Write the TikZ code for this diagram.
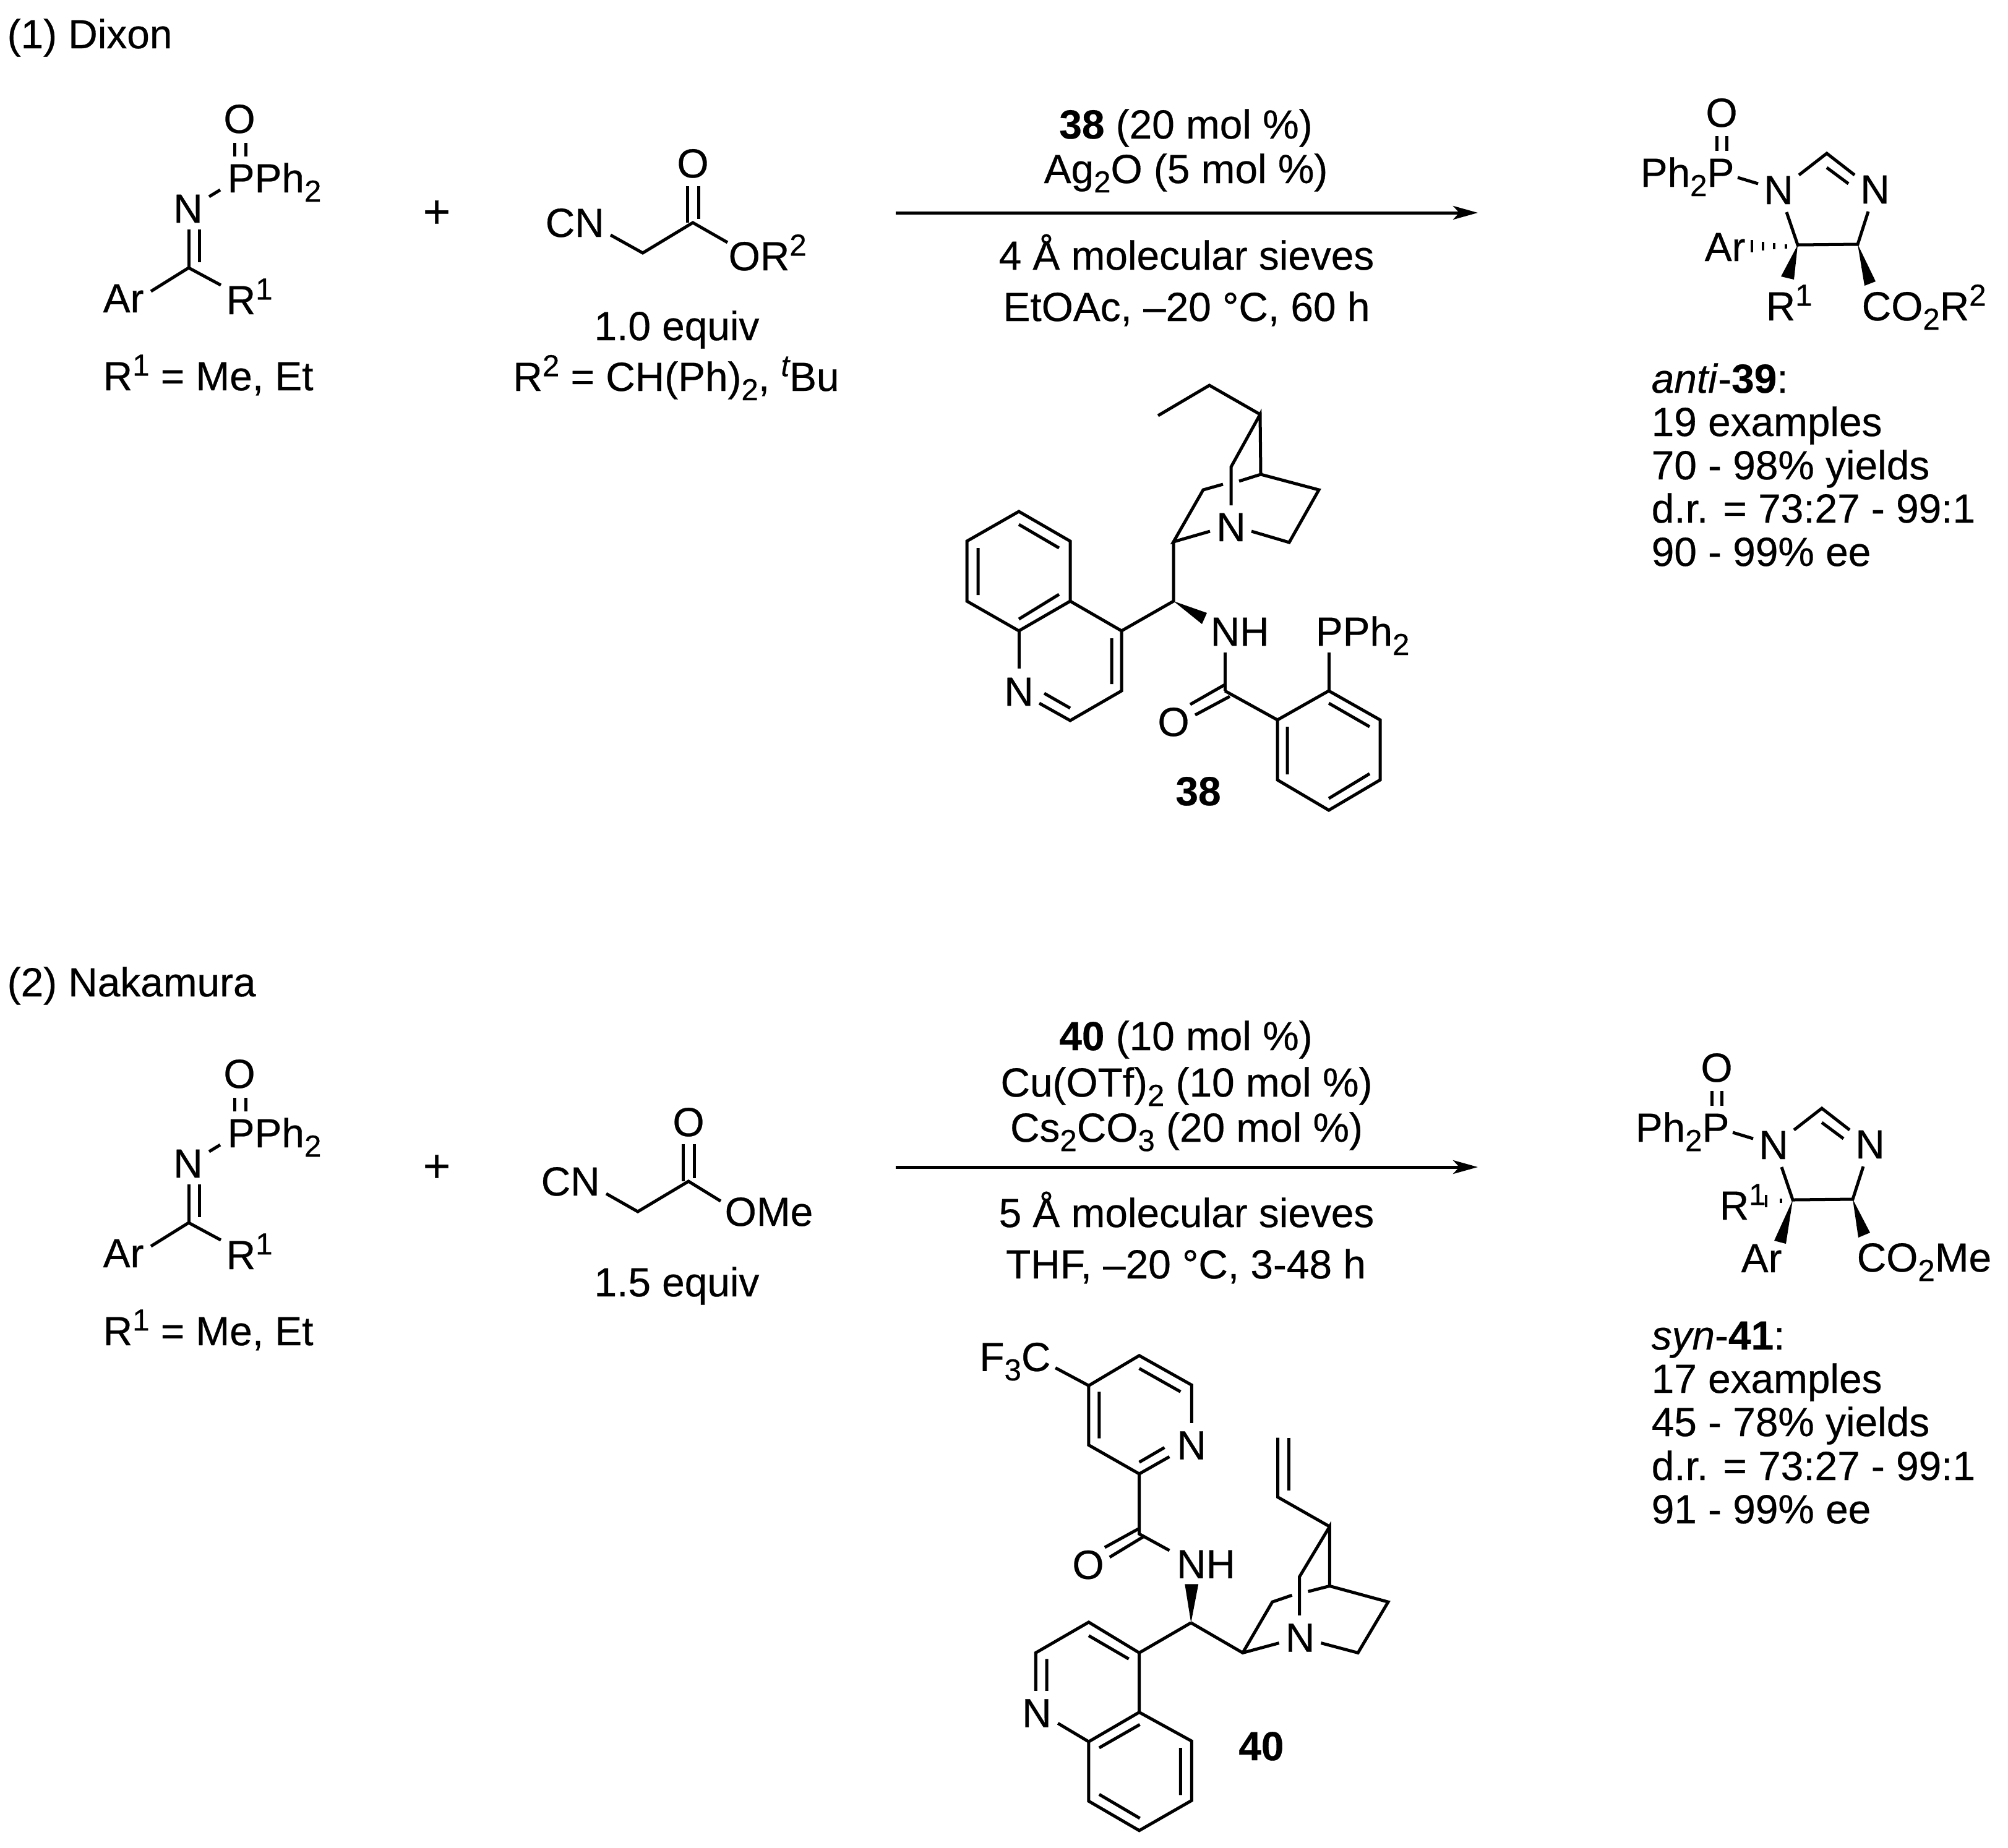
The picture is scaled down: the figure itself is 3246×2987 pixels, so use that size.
\documentclass[tikz,border=0pt]{standalone}
\usepackage{fontspec}
\setmainfont{Liberation Sans}[FakeBold=0.4]
\usetikzlibrary{arrows.meta}
\newcommand{\atm}[3]{\coordinate (#1) at (#2,#3);}
\newcommand{\subs}[1]{\raisebox{-0.23em}{\fontsize{14}{14}\selectfont #1}}
\newcommand{\sups}[1]{\raisebox{0.36em}{\fontsize{14}{14}\selectfont #1}}
\tikzset{
  bond/.style={line width=0.05cm,line cap=butt,line join=miter,black},
  hashb/.style={line width=0.04cm,black},
  wedgeb/.style={fill=black,draw=none},
  rxn/.style={line width=0.05cm,black,-{Stealth[length=0.4cm,width=0.22cm,inset=0.1cm]}},
  lbl/.style={anchor=base west,inner sep=0pt,font=\fontsize{18.7}{18.7}\selectfont},
  clbl/.style={anchor=base,inner sep=0pt,font=\fontsize{18.7}{18.7}\selectfont},
  plusl/.style={anchor=base,inner sep=0pt,font=\fontsize{21.5}{21.5}\selectfont}
}
% imine reactant
\newcommand{\iminemol}[2]{%
\begin{scope}[shift={(0,#2)}]
\atm{#1c}{305}{433}
\atm{#1na}{305}{371}\atm{#1nb}{322}{371}\atm{#1cb}{322}{424}
\atm{#1pa}{379}{231}\atm{#1pb}{397}{231}\atm{#1pc}{379}{253}\atm{#1pd}{397}{253}
\atm{#1ns}{338}{318}\atm{#1ne}{356}{307}
\atm{#1ar}{244}{471}\atm{#1ro}{357}{461}
\node[clbl] (#1O) at (387,215) {O};
\node[lbl] (#1PPh) at (367,311) {PPh\subs{2}};
\node[clbl] (#1N) at (304,360) {N};
\node[lbl] (#1Ar) at (166,505) {Ar};
\node[lbl] (#1R) at (365,508) {R\sups{1}};
\node[lbl] (#1Rdef) at (166,631) {R\sups{1} = Me, Et};
\draw[bond] (#1pa)--(#1pc) (#1pb)--(#1pd);
\draw[bond] (#1ns)--(#1ne);
\draw[bond] (#1na)--(#1c) (#1nb)--(#1cb);
\draw[bond] (#1ar)--(#1c)--(#1ro);
\end{scope}}
% imidazoline core
\newcommand{\ringcore}[4]{%
\begin{scope}[shift={(#2,#3)}]
\atm{#1top}{2953}{248}\atm{#1l}{2908}{283}\atm{#1r}{2998}{283}
\atm{#1ia}{2953}{271}\atm{#1ib}{2988}{297}
\atm{#1pa}{2775}{220}\atm{#1pb}{2791}{220}\atm{#1pc}{2775}{244}\atm{#1pd}{2791}{244}
\atm{#1ps}{2809}{287}\atm{#1pe}{2842}{297}
\atm{#1ns}{2888}{343}\atm{#1cf}{2906}{396}\atm{#1cv}{3003}{395}\atm{#1nt}{3020}{342}
\node[clbl] (#1O) at (2783,205) {O};
\node[lbl] (#1Ph) at (2651,302) {Ph\subs{2}P};
\node[clbl] (#1Na) at (2875,330) {N};
\node[clbl] (#1Nb) at (3031,329) {N};
\draw[bond] (#1pa)--(#1pc) (#1pb)--(#1pd);
\draw[bond] (#1ps)--(#1pe);
\draw[bond] (#1l)--(#1top)--(#1r) (#1ia)--(#1ib);
\draw[bond] (#1ns)--(#1cf)--(#1cv)--(#1nt);
#4
\end{scope}}
\begin{document}
\begin{tikzpicture}[x=0.01cm,y=-0.01cm]
\useasboundingbox (0,0) rectangle (3246,2987);
% ===== Row 1 =====
\node[lbl] (titleA) at (11,78) {(1) Dixon};
\iminemol{ia}{0}
\node[plusl] (plusA) at (706,368) {+};
% ester 1
\atm{ea}{987}{380}\atm{eb}{1039}{409}\atm{ec}{1120}{360}\atm{ed}{1176}{392}
\atm{eo1}{1111}{301}\atm{eo2}{1129}{301}\atm{ec1}{1111}{360}\atm{ec2}{1129}{354}
\node[lbl] (eCN) at (881,383) {CN};
\node[clbl] (eO) at (1120,287) {O};
\node[lbl] (eOR) at (1177,437) {OR\sups{2}};
\node[clbl] (eq1) at (1094,550) {1.0 equiv};
\node[clbl] (eq1b) at (1093,632) {R\sups{2} = CH(Ph)\subs{2}, \sups{\itshape t}Bu};
\draw[bond] (ea)--(eb)--(ec)--(ed);
\draw[bond] (eo1)--(ec1) (eo2)--(ec2);
% arrow 1
\atm{aas}{1448}{344}\atm{aae}{2389}{344}
\draw[rxn] (aas)--(aae);
\node[clbl] (c1a) at (1917,224) {\textbf{38} (20 mol \%)};
\node[clbl] (c1b) at (1917,296) {Ag\subs{2}O (5 mol \%)};
\node[clbl] (c1c) at (1918,436) {4 Å molecular sieves};
\node[clbl] (c1d) at (1918,519) {EtOAc, –20 °C, 60 h};
% catalyst 38 : quinoline
\atm{qa}{1647}{827}\atm{qb}{1730}{875}\atm{qc}{1730}{972}\atm{qd}{1647}{1020}\atm{qe}{1563}{972}\atm{qf}{1563}{875}
\atm{qg}{1813}{1020}\atm{qh}{1813}{1117}\atm{qi}{1730}{1165}
\atm{qn}{1647}{1081}\atm{qm}{1680}{1137}
\draw[bond] (qa)--(qb)--(qc)--(qd)--(qe)--(qf)--cycle;
\draw[bond] (qc)--(qg)--(qh)--(qi)--(qm);
\draw[bond] (qd)--(qn);
\atm{qia}{1647}{848}\atm{qib}{1712}{886}\atm{qic}{1581}{886}\atm{qid}{1581}{962}
\atm{qie}{1647}{1001}\atm{qif}{1712}{961}\atm{qig}{1797}{1032}\atm{qih}{1797}{1106}
\atm{qii}{1688}{1121}\atm{qij}{1730}{1145}
\draw[bond] (qia)--(qib) (qic)--(qid) (qie)--(qif) (qig)--(qih) (qii)--(qij);
\node[clbl] (qN) at (1647,1141) {N};
% linker
\atm{lj}{1897}{972}\atm{lk}{1897}{876}\atm{lwa}{1951}{991}\atm{lwb}{1943}{1009}
\draw[bond] (qg)--(lj)--(lk);
\fill[wedgeb] (lj)--(lwa)--(lwb)--cycle;
\node[lbl] (lNH) at (1956,1044) {NH};
\atm{ln}{1980}{1055}\atm{ll}{1980}{1117}
\atm{lo1}{1980}{1107}\atm{lo2}{1924}{1139}\atm{lo3}{1988}{1126}\atm{lo4}{1932}{1156}
\draw[bond] (ln)--(ll);
\draw[bond] (lo1)--(lo2) (lo3)--(lo4);
\node[clbl] (lO) at (1897,1190) {O};
% benzene
\atm{ba}{2065}{1164}\atm{bb}{2148}{1117}\atm{bc}{2231}{1164}\atm{bd}{2231}{1261}\atm{be}{2148}{1310}\atm{bf}{2065}{1261}
\draw[bond] (ba)--(bb)--(bc)--(bd)--(be)--(bf)--cycle;
\draw[bond] (ll)--(ba);
\atm{bia}{2148}{1137}\atm{bib}{2214}{1175}\atm{bic}{2081}{1175}\atm{bid}{2081}{1252}\atm{bie}{2148}{1291}\atm{bif}{2214}{1251}
\draw[bond] (bia)--(bib) (bic)--(bid) (bie)--(bif);
\atm{bp}{2148}{1055}
\draw[bond] (bb)--(bp);
\node[lbl] (bPPh) at (2126,1044) {PPh\subs{2}};
\node[clbl] (lab38) at (1937,1302) {\textbf{38}};
% quinuclidine
\node[clbl] (uN) at (1990,875) {N};
\atm{ua}{1956}{859}\atm{us}{1945}{792}\atm{ub}{1977}{783}\atm{uc}{2003}{778}\atm{ut}{2038}{767}
\atm{uu}{2132}{792}\atm{uv}{2084}{877}\atm{ud}{2023}{859}\atm{uw}{1990}{755}\atm{ue}{1990}{817}
\atm{ux}{2037}{670}\atm{uy}{1955}{623}\atm{uz}{1872}{672}
\draw[bond] (ua)--(lk)--(us)--(ub);
\draw[bond] (uc)--(ut)--(uu)--(uv)--(ud);
\draw[bond] (ue)--(uw)--(ux)--(ut);
\draw[bond] (ux)--(uy)--(uz);
% product 39
\ringcore{pa}{0}{0}{}
\atm{pawa}{2879}{447}\atm{pawb}{2900}{452}\atm{pawc}{3014}{462}\atm{pawd}{3032}{455}
\fill[wedgeb] (pacf)--(pawa)--(pawb)--cycle;
\fill[wedgeb] (pacv)--(pawc)--(pawd)--cycle;
\atm{ph1}{2832}{388}\atm{ph2}{2832}{408}\atm{ph3}{2850}{391}\atm{ph4}{2850}{405}
\atm{ph5}{2868}{393}\atm{ph6}{2868}{403}\atm{ph7}{2887}{395}\atm{ph8}{2887}{402}
\draw[hashb] (ph1)--(ph2) (ph3)--(ph4) (ph5)--(ph6) (ph7)--(ph8);
\node[lbl] (paAr) at (2755,422) {Ar};
\node[lbl] (paR) at (2854,518) {R\sups{1}};
\node[lbl] (paCO) at (3009,518) {CO\subs{2}R\sups{2}};
\node[lbl] (sa1) at (2669,635) {\textit{anti}-\textbf{39}:};
\node[lbl] (sa2) at (2669,705) {19 examples};
\node[lbl] (sa3) at (2669,775) {70 - 98\% yields};
\node[lbl] (sa4) at (2669,845) {d.r. = 73:27 - 99:1};
\node[lbl] (sa5) at (2669,915) {90 - 99\% ee};
% ===== Row 2 =====
\node[lbl] (titleB) at (11,1611) {(2) Nakamura};
\iminemol{ib}{1544}
\node[plusl] (plusB) at (706,1911) {+};
% ester 2
\atm{fa}{980}{1930}\atm{fb}{1031}{1959}\atm{fc}{1113}{1910}\atm{fd}{1165}{1942}
\atm{fo1}{1104}{1850}\atm{fo2}{1122}{1850}\atm{fc1}{1104}{1910}\atm{fc2}{1122}{1905}
\node[lbl] (fCN) at (874,1933) {CN};
\node[clbl] (fO) at (1113,1837) {O};
\node[lbl] (fOMe) at (1171,1982) {OMe};
\node[clbl] (eq2) at (1094,2096) {1.5 equiv};
\draw[bond] (fa)--(fb)--(fc)--(fd);
\draw[bond] (fo1)--(fc1) (fo2)--(fc2);
% arrow 2
\atm{abs}{1448}{1887}\atm{abe}{2389}{1887}
\draw[rxn] (abs)--(abe);
\node[clbl] (c2a) at (1917,1698) {\textbf{40} (10 mol \%)};
\node[clbl] (c2b) at (1918,1773) {Cu(OTf)\subs{2} (10 mol \%)};
\node[clbl] (c2c) at (1918,1846) {Cs\subs{2}CO\subs{3} (20 mol \%)};
\node[clbl] (c2d) at (1918,1984) {5 Å molecular sieves};
\node[clbl] (c2e) at (1917,2067) {THF, –20 °C, 3-48 h};
% catalyst 40
\begin{scope}[shift={(6,19.73)},xscale=0.996,yscale=0.991]
\node[lbl] (vF) at (1583,2217) {F\subs{3}C};
\atm{va}{1761}{2241}\atm{vb}{1843}{2192}\atm{vc}{1928}{2240}\atm{vn}{1928}{2302}
\atm{vd}{1843}{2385}\atm{ve}{1761}{2338}\atm{vm}{1892}{2357}\atm{vf}{1707}{2212}
\draw[bond] (vn)--(vc)--(vb)--(va)--(ve)--(vd)--(vm);
\draw[bond] (vf)--(va);
\atm{via}{1843}{2213}\atm{vib}{1910}{2251}\atm{vic}{1778}{2251}\atm{vid}{1778}{2327}
\atm{vie}{1843}{2366}\atm{vif}{1884}{2342}
\draw[bond] (via)--(vib) (vic)--(vid) (vie)--(vif);
\node[clbl] (vN) at (1928,2361) {N};
% amide
\atm{vg}{1843}{2483}\atm{vo1}{1843}{2474}\atm{vo2}{1787}{2505}\atm{vo3}{1849}{2488}\atm{vo4}{1795}{2521}\atm{vh}{1892}{2510}
\draw[bond] (vd)--(vg)--(vh);
\draw[bond] (vo1)--(vo2) (vo3)--(vo4);
\node[clbl] (vO) at (1760,2556) {O};
\node[lbl] (vNH) at (1903,2555) {NH};
\atm{wt}{1927}{2628}\atm{wa}{1917}{2565}\atm{wb}{1939}{2565}
\fill[wedgeb] (wt)--(wa)--(wb)--cycle;
% quinoline 2
\atm{xh}{1843}{2677}\atm{xj}{1761}{2627}\atm{xk}{1675}{2677}\atm{xn}{1675}{2739}
\atm{xl}{1843}{2774}\atm{xm}{1761}{2822}\atm{xs}{1711}{2792}
\atm{xo}{1928}{2821}\atm{xp}{1928}{2918}\atm{xq}{1843}{2967}\atm{xr}{1761}{2919}
\draw[bond] (xn)--(xk)--(xj)--(xh)--(xl);
\draw[bond] (xh)--(wt);
\draw[bond] (xl)--(xo)--(xp)--(xq)--(xr)--(xm)--cycle;
\draw[bond] (xs)--(xm);
\atm{xia}{1693}{2687}\atm{xib}{1693}{2739}\atm{xic}{1761}{2649}\atm{xid}{1826}{2687}
\atm{xie}{1778}{2832}\atm{xif}{1844}{2794}\atm{xig}{1910}{2832}\atm{xih}{1910}{2909}
\atm{xii}{1844}{2947}\atm{xij}{1778}{2908}
\draw[bond] (xia)--(xib) (xic)--(xid) (xie)--(xif) (xig)--(xih) (xii)--(xij);
\node[lbl] (xN) at (1652,2798) {N};
\node[clbl] (lab40) at (2041,2852) {\textbf{40}};
% quinuclidine 2
\node[clbl] (yN) at (2104,2675) {N};
\atm{yi}{2011}{2677}\atm{ya}{2070}{2661}\atm{yr}{2059}{2594}\atm{yb}{2091}{2583}
\atm{yc}{2117}{2577}\atm{ys}{2152}{2568}\atm{yt}{2247}{2594}\atm{yu}{2198}{2677}\atm{yd}{2138}{2661}
\atm{yw}{2103}{2553}\atm{ye}{2103}{2616}\atm{yx}{2152}{2471}\atm{yy}{2068}{2423}\atm{yz}{2068}{2326}
\atm{yq}{2086}{2326}\atm{yp}{2086}{2412}
\draw[bond] (wt)--(yi)--(ya);
\draw[bond] (yi)--(yr)--(yb);
\draw[bond] (yc)--(ys)--(yt)--(yu)--(yd);
\draw[bond] (ye)--(yw)--(yx)--(ys);
\draw[bond] (yx)--(yy)--(yz);
\draw[bond] (yq)--(yp);
\end{scope}
% product 41
\ringcore{pb}{-8}{1544}{}
\atm{pbwa}{2868}{2006}\atm{pbwb}{2887}{2011}\atm{pbwc}{3004}{2001}\atm{pbwd}{3023}{1993}
\fill[wedgeb] (pbcf)--(pbwa)--(pbwb)--cycle;
\fill[wedgeb] (pbcv)--(pbwc)--(pbwd)--cycle;
\atm{qh1}{2855}{1932}\atm{qh2}{2855}{1952}\atm{qh3}{2879}{1938}\atm{qh4}{2879}{1945}
\draw[hashb] (qh1)--(qh2) (qh3)--(qh4);
\node[lbl] (pbR) at (2779,1972) {R\sups{1}};
\node[lbl] (pbAr) at (2814,2057) {Ar};
\node[lbl] (pbCO) at (3001,2056) {CO\subs{2}Me};
\node[lbl] (sb1) at (2669,2182) {\textit{syn}-\textbf{41}:};
\node[lbl] (sb2) at (2669,2252) {17 examples};
\node[lbl] (sb3) at (2669,2322) {45 - 78\% yields};
\node[lbl] (sb4) at (2669,2393) {d.r. = 73:27 - 99:1};
\node[lbl] (sb5) at (2669,2463) {91 - 99\% ee};
\end{tikzpicture}
\end{document}
